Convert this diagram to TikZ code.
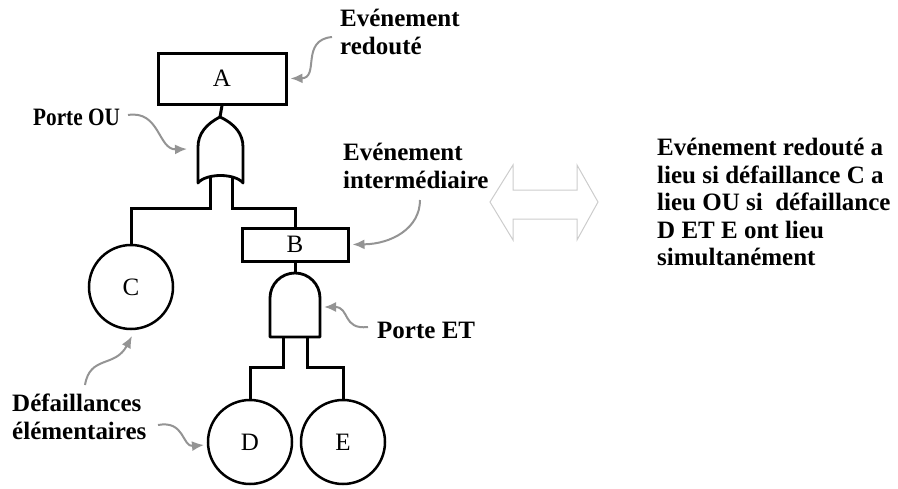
\documentclass[tikz,border=0pt]{standalone}
\usepackage{fontspec}
\setmainfont{Liberation Serif}
\newfontfamily\narrowserif{Liberation Serif}[FakeStretch=0.85]
\usetikzlibrary{arrows.meta}

\begin{document}
\begin{tikzpicture}[x=1pt,y=-1pt,
  eventbox/.style={draw,line width=3pt,inner sep=0pt,
    font=\fontsize{25}{27}\selectfont},
  basic/.style={draw,circle,line width=2.5pt,minimum size=84pt,inner sep=0pt,
    font=\fontsize{25}{27}\selectfont},
  gate/.style={line width=2.8pt,line join=round},
  wire/.style={line width=3pt},
  note/.style={font=\fontsize{25}{27.5}\selectfont\bfseries,inner sep=0pt,align=left},
  pointer/.style={draw=black!42,line width=2pt,-{Latex[length=12pt,width=10pt]}},
  bothways/.style={draw=black!20,line width=1pt,line join=miter},
]
\useasboundingbox (0,0) rectangle (898,488);

% events
\node[eventbox,minimum width=128pt,minimum height=51pt] (A) at (222,78.5) {A};
\node[eventbox,minimum width=106pt,minimum height=33pt] (B) at (295,244.5) {B};
\node[basic] (C) at (131,287) {C};
\node[basic] (D) at (250,442) {D};
\node[basic] (E) at (343,442) {E};

% OR gate
\coordinate (orTop) at (220,117);
\coordinate (orInL) at (210,177);
\coordinate (orInR) at (232,177);
\draw[gate] (orTop) .. controls (206,124) and (198,134) .. (198,147) -- (198,183)
  .. controls (206,173) and (235,173) .. (243,183) -- (243,147)
  .. controls (243,134) and (235,124) .. (orTop) -- cycle;

% AND gate
\coordinate (andTop) at (295,273);
\coordinate (andInL) at (283,337);
\coordinate (andInR) at (307,337);
\draw[gate] (270,337) -- (270,298) arc[start angle=180,end angle=360,radius=25]
  -- (320,337) -- cycle;

% wiring
\draw[wire] (A.south) -- (orTop);
\draw[wire] (orInL) -- ++(0,31) -| (C.north);
\draw[wire] (orInR) -- ++(0,31) -| (B.north);
\draw[wire] (B.south) -- (andTop);
\draw[wire] (andInL) -- ++(0,30) -| (D.north);
\draw[wire] (andInR) -- ++(0,30) -| (E.north);

% annotations
\node[note,anchor=north west] (lblTop) at (340,9) {Evénement\\redouté};
\node[note,anchor=base west] (lblOU) at (33,125) {\narrowserif\bfseries Porte OU};
\node[note,anchor=north west] (lblInt) at (343,143) {Evénement\\intermédiaire};
\node[note,anchor=base west] (lblET) at (377,338) {Porte ET};
\node[note,anchor=north west] (lblElem) at (12,394) {Défaillances\\élémentaires};
\node[note,anchor=north west] (lblRight) at (657,138)
  {Evénement redouté a\\lieu si défaillance C a\\lieu OU si\ \ défaillance\\D ET E ont lieu\\simultanément};

% pointer arrows
\coordinate (pTop) at (332,37);
\coordinate (pOU) at (128,115);
\coordinate (orSide) at (187,149);
\coordinate (pInt) at (420,200);
\coordinate (pET) at (368,327);
\coordinate (andSide) at (324,307);
\coordinate (pC) at (85,385);
\coordinate (cTip) at (132,336);
\coordinate (pD) at (158,425);
\coordinate (dTip) at (204,445);

\draw[pointer] (pTop) .. controls (300,40) and (320,78) .. ([xshift=3pt]A.east);
\draw[pointer] (pOU) .. controls (160,110) and (158,150) .. (orSide);
\draw[pointer] (pInt) .. controls (420,228) and (392,244) .. ([xshift=3pt]B.east);
\draw[pointer] (pET) .. controls (342,330) and (350,307) .. (andSide);
\draw[pointer] (pC) .. controls (90,355) and (115,368) .. (cTip);
\draw[pointer] (pD) .. controls (185,420) and (182,447) .. (dTip);

% equivalence arrow
\draw[bothways] (490,202) -- (513,165) -- (513,190) -- (577,190) -- (577,165)
  -- (598,202) -- (577,240) -- (577,219) -- (513,219) -- (513,240) -- cycle;
\end{tikzpicture}
\end{document}
